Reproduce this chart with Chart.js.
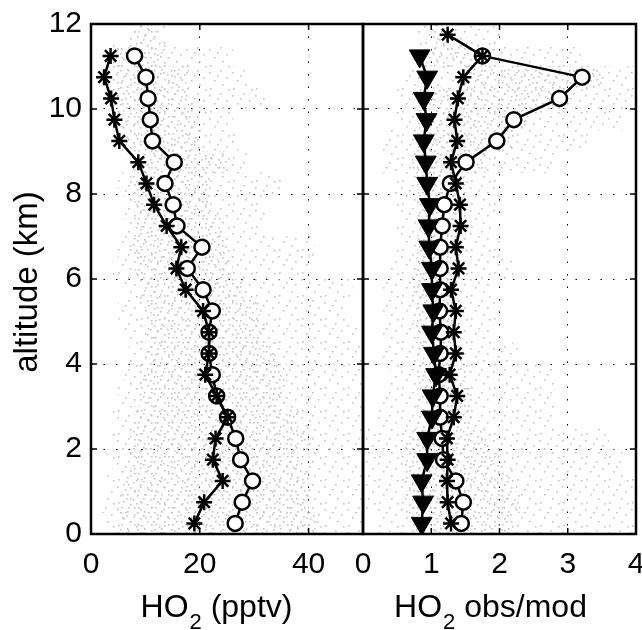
<!DOCTYPE html>
<html>
<head>
<meta charset="utf-8">
<script src="https://cdn.jsdelivr.net/npm/chart.js@4.4.0/dist/chart.umd.min.js"></script>
<style>
html, body { margin: 0; padding: 0; background: #fff; }
#wrap { position: relative; width: 642px; height: 630px; overflow: hidden; background: #fff; }
canvas { position: absolute; top: 0; }
#leftChart { left: 0; }
#rightChart { left: 330px; }
</style>
</head>
<body>
<div id="wrap">
  <canvas id="leftChart" width="366" height="630"></canvas>
  <canvas id="rightChart" width="312" height="630"></canvas>
</div>
<script>
// altitude bins (km), 0.5 km wide
const altitude = [0.25, 0.75, 1.25, 1.75, 2.25, 2.75, 3.25, 3.75, 4.25, 4.75, 5.25, 5.75,
                  6.25, 6.75, 7.25, 7.75, 8.25, 8.75, 9.25, 9.75, 10.25, 10.75, 11.25, 11.75];

// left panel: HO2 (pptv)
const hoObs = [26.5, 27.8, 29.7, 27.5, 26.6, 25.1, 23.1, 22.3, 21.7, 21.7, 22.3, 20.6,
               17.7, 20.4, 15.8, 15.1, 13.6, 15.3, 11.3, 10.9, 10.5, 10.1, 8.0, null];
const hoMod = [19.0, 20.8, 24.2, 22.4, 22.9, 25.1, 23.1, 21.0, 21.7, 21.7, 20.6, 17.4,
               15.7, 16.6, 13.9, 11.6, 10.2, 8.7, 5.2, 4.3, 3.7, 2.4, 3.6, null];
// extent of the grey cloud of individual measurements
const hoSpreadLo = [3, 2, 3, 4, 4, 4, 5, 6, 7, 6, 5, 6, 4, 5, 6, 6, 5, 8, 5, 5, 4, 3, 3, 7];
const hoSpreadHi = [50, 50, 50, 49, 50, 50, 50, 50, 50, 49, 47, 48, 40, 41, 32, 32, 35, 29, 27, 26, 32, 29, 26, 14];
const hoCoreLo = [5, 5, 6, 7, 7, 8, 9, 9, 10, 10, 10, 9, 8, 7, 8, 8, 7, 9, 6, 6, 5, 4, 4, 8];
const hoCoreHi = [42, 40, 40, 38, 40, 38, 36, 36, 34, 32, 31, 28, 26, 25, 24, 22, 22, 25, 20, 19, 18, 18, 14, 12];

// right panel: HO2 obs/mod
const ratioStar = [1.29, 1.24, 1.23, 1.24, 1.23, 1.33, 1.38, 1.27, 1.36, 1.33, 1.36, 1.29,
                   1.40, 1.36, 1.43, 1.42, 1.36, 1.29, 1.38, 1.34, 1.39, 1.47, 1.75, 1.24];
const ratioCircle = [1.44, 1.47, 1.36, 1.18, 1.16, 1.13, 1.13, 1.11, 1.13, 1.14, 1.12, 1.13,
                     1.13, 1.13, 1.16, 1.19, 1.28, 1.51, 1.96, 2.21, 2.88, 3.21, 1.75, null];
const ratioTriangle = [0.86, 0.88, 0.86, 0.94, 0.94, 1.01, 1.02, 1.07, 1.04, 1.01, 1.03, 1.01,
                       1.01, 0.97, 0.96, 0.98, 0.94, 0.92, 0.89, 0.93, 0.89, 0.94, 0.83, null];
const ratioSpreadLo = [0.2, 0.0, 0.0, 0.0, 0.0, 0.2, 0.3, 0.4, 0.3, 0.3, 0.3, 0.3, 0.4, 0.5, 0.5, 0.5, 0.45, 0.3, 0.3, 0.5, 0.5, 0.6, 0.8, 0.8];
const ratioSpreadHi = [4.0, 4.0, 4.0, 3.8, 3.6, 2.8, 2.8, 2.8, 2.3, 1.9, 2.0, 1.9, 2.2, 2.0, 1.9, 2.0, 2.0, 2.8, 3.3, 3.8, 4.0, 4.0, 3.2, 2.0];
const ratioCoreLo = [0.7, 0.6, 0.6, 0.6, 0.6, 0.8, 0.8, 0.8, 0.8, 0.75, 0.75, 0.7, 0.75, 0.8, 0.8, 0.8, 0.8, 0.7, 0.8, 0.8, 1.0, 1.5, 1.0, 1.0];
const ratioCoreHi = [2.2, 2.3, 2.2, 2.0, 1.8, 1.6, 1.6, 1.5, 1.35, 1.3, 1.35, 1.35, 1.35, 1.35, 1.4, 1.4, 1.5, 1.8, 2.2, 2.4, 3.0, 3.5, 1.8, 1.2];

// tick labels
const altTicks = [0, 2, 4, 6, 8, 10, 12];
const hoTicks = [0, 20, 40];
const ratioTicks = [0, 1, 2, 3, 4];

const FONT = '"Liberation Sans", Arial, Helvetica, sans-serif';
Chart.defaults.font.family = FONT;
Chart.defaults.color = '#000';

// speckle texture for the measurement cloud
function speckle(size, dots) {
    const c = document.createElement('canvas');
    c.width = size; c.height = size;
    const g = c.getContext('2d');
    g.fillStyle = '#c4c4c4';
    dots.forEach(d => g.fillRect(d[0], d[1], 1.6, 1.6));
    return g.createPattern(c, 'repeat');
}
const sparseFill = speckle(23, [[2, 3], [13, 1], [19, 8], [7, 11], [15, 15], [3, 19], [10, 6], [21, 20]]);
const coreFill = speckle(17, [[1, 2], [8, 1], [14, 6], [4, 8], [11, 11], [2, 14], [15, 14], [7, 5]]);

function points(xs) {
    return xs.map((v, i) => ({ x: v, y: altitude[i] })).filter(p => p.x !== null);
}
function band(lo, hi) {
    return altitude.map((a, i) => ({ y: a, x: [lo[i], hi[i]] }));
}

function cloud(lo, hi, fill, order) {
    return {
        type: 'bar', indexAxis: 'y', grouped: false,
        data: band(lo, hi),
        backgroundColor: fill, borderWidth: 0,
        barPercentage: 1, categoryPercentage: 1,
        order: order
    };
}
function series(xs, style, order) {
    return Object.assign({
        data: points(xs),
        showLine: true,
        borderColor: '#000', borderWidth: 2.5,
        pointBorderColor: '#000',
        order: order
    }, style);
}
const circleStyle = { pointStyle: 'circle', pointRadius: 7.5, pointBorderWidth: 2.5, pointBackgroundColor: '#fff' };
const starStyle = { pointStyle: 'star', pointRadius: 8, pointBorderWidth: 2.5, pointBackgroundColor: '#000' };
const triStyle = { pointStyle: 'triangle', pointRotation: 180, pointRadius: 12, pointBorderWidth: 1, pointBackgroundColor: '#000' };

// box round the plot and inward tick marks
const framePlugin = {
    id: 'frame',
    afterDraw(chart) {
        const { ctx, chartArea: a, scales } = chart;
        ctx.save();
        ctx.strokeStyle = '#000';
        ctx.lineWidth = 1.5;
        ctx.beginPath();
        scales.x.ticks.forEach(t => {
            const px = scales.x.getPixelForValue(t.value);
            ctx.moveTo(px, a.bottom); ctx.lineTo(px, a.bottom - 6);
            ctx.moveTo(px, a.top); ctx.lineTo(px, a.top + 6);
        });
        scales.y.ticks.forEach(t => {
            const py = scales.y.getPixelForValue(t.value);
            ctx.moveTo(a.left, py); ctx.lineTo(a.left + 6, py);
            ctx.moveTo(a.right, py); ctx.lineTo(a.right - 6, py);
        });
        ctx.stroke();
        ctx.lineWidth = 2.5;
        ctx.strokeRect(a.left, a.top, a.right - a.left, a.bottom - a.top);
        ctx.restore();
    }
};

function drawHO2Title(ctx, cx, base, rest) {
    ctx.save();
    ctx.fillStyle = '#000';
    ctx.textBaseline = 'alphabetic';
    ctx.textAlign = 'left';
    ctx.font = '32px ' + FONT;
    const w1 = ctx.measureText('HO').width;
    const w3 = ctx.measureText(rest).width;
    ctx.font = '22px ' + FONT;
    const w2 = ctx.measureText('2').width;
    let x = cx - (w1 + w2 + w3) / 2;
    ctx.font = '32px ' + FONT;
    ctx.fillText('HO', x, base);
    ctx.font = '22px ' + FONT;
    ctx.fillText('2', x + w1 + 1, base + 12);
    ctx.font = '32px ' + FONT;
    ctx.fillText(rest, x + w1 + w2 + 1, base);
    ctx.restore();
}

function axisOptions(min, max, ticks, extra) {
    return Object.assign({
        type: 'linear', min: min, max: max, offset: false,
        afterBuildTicks: s => { s.ticks = ticks.map(v => ({ value: v })); },
        grid: { color: '#000', lineWidth: 1, drawTicks: false, offset: false },
        border: { display: false, dash: [1.5, 11] },
        ticks: { font: { size: 30 }, color: '#000' }
    }, extra);
}

// fixed axis sizes, and no extra room asked for the end labels
function fixHeight(h) {
    return s => { s.height = h; s.paddingLeft = 0; s.paddingRight = 0; };
}
function fixWidth(w) {
    return s => { s.width = w; s.paddingTop = 0; s.paddingBottom = 0; };
}

function baseOptions(padding, xAxis, yAxis) {
    return {
        responsive: false,
        animation: false,
        layout: { autoPadding: false, padding: padding },
        plugins: { legend: { display: false }, tooltip: { enabled: false } },
        scales: { x: xAxis, y: yAxis }
    };
}

const leftX = axisOptions(0, 50, hoTicks, { afterFit: fixHeight(96) });
leftX.ticks.padding = 13;
const leftY = axisOptions(0, 12, altTicks, { afterFit: fixWidth(91) });
leftY.ticks.padding = 9;

new Chart(document.getElementById('leftChart'), {
    type: 'scatter',
    data: {
        datasets: [
            series(hoMod, starStyle, 2),
            series(hoObs, circleStyle, 3),
            cloud(hoCoreLo, hoCoreHi, coreFill, 9),
            cloud(hoSpreadLo, hoSpreadHi, sparseFill, 10)
        ]
    },
    options: baseOptions({ left: 0, right: 3, top: 24, bottom: 0 }, leftX, leftY),
    plugins: [framePlugin, {
        id: 'leftTitles',
        afterDraw(chart) {
            const ctx = chart.ctx;
            drawHO2Title(ctx, 216, 617, ' (pptv)');
            ctx.save();
            ctx.fillStyle = '#000';
            ctx.font = '33px ' + FONT;
            ctx.textAlign = 'center';
            ctx.textBaseline = 'middle';
            ctx.translate(28, 282);
            ctx.rotate(-Math.PI / 2);
            ctx.fillText('altitude (km)', 0, 0);
            ctx.restore();
        }
    }]
});

const rightX = axisOptions(0, 4, ratioTicks, { afterFit: fixHeight(96) });
rightX.ticks.padding = 13;
const rightY = axisOptions(0, 12, altTicks, { afterFit: fixWidth(0) });
rightY.ticks.display = false;

new Chart(document.getElementById('rightChart'), {
    type: 'scatter',
    data: {
        datasets: [
            series(ratioTriangle, triStyle, 1),
            series(ratioStar, starStyle, 2),
            series(ratioCircle, circleStyle, 3),
            cloud(ratioCoreLo, ratioCoreHi, coreFill, 9),
            cloud(ratioSpreadLo, ratioSpreadHi, sparseFill, 10)
        ]
    },
    options: baseOptions({ left: 33, right: 6, top: 24, bottom: 0 }, rightX, rightY),
    plugins: [framePlugin, {
        id: 'rightTitles',
        afterDraw(chart) {
            drawHO2Title(chart.ctx, 160, 617, ' obs/mod');
        }
    }]
});
</script>
</body>
</html>
